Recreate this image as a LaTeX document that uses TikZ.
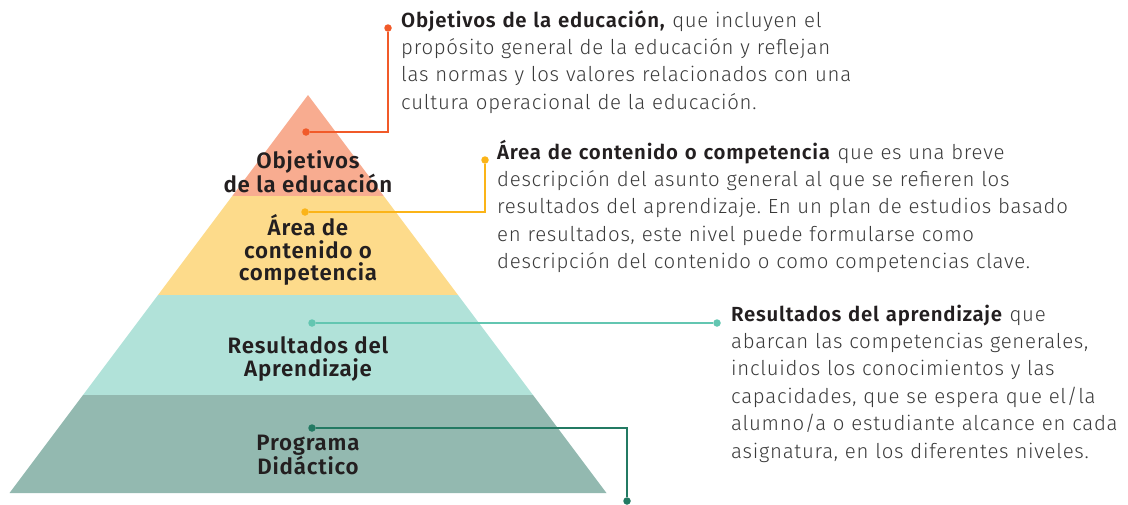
\documentclass[tikz,border=0pt]{standalone}
\usepackage{fontspec}
\setmainfont{Fira Sans}[UprightFont={* Light}, BoldFont={* SemiBold}, LetterSpace=3.6]
\usepackage{tikz}
\frenchspacing

\definecolor{objfill}{HTML}{F8AC90}
\definecolor{areafill}{HTML}{FDDB8B}
\definecolor{resfill}{HTML}{B1E2D9}
\definecolor{progfill}{HTML}{93B9B0}
\definecolor{objline}{HTML}{F15A29}
\definecolor{arealine}{HTML}{FBB418}
\definecolor{resline}{HTML}{63C6B1}
\definecolor{progline}{HTML}{237A63}
\definecolor{labelgray}{HTML}{231F20}
\definecolor{notegray}{HTML}{3A3A3A}

\begin{document}
\begin{tikzpicture}[x=1pt,y=-1pt,
    tier/.style={font=\bfseries\fontsize{22.3}{22.5}\selectfont, text=labelgray, align=center, inner sep=0},
    note/.style={font=\fontsize{20.4}{27.4}\selectfont, text=notegray, text width=700pt, align=left, anchor=base west, inner sep=0},
    link/.style={line width=2pt},
    dot/.style={circle, fill, inner sep=0, minimum size=7.5pt}]

\useasboundingbox (0,0) rectangle (1128,504);

% pyramid
\fill[objfill] (308,95) -- (383.75,196) -- (232.25,196) -- cycle;
\fill[areafill] (232.25,196) -- (383.75,196) -- (458,295) -- (158,295) -- cycle;
\fill[resfill] (158,295) -- (458,295) -- (533,395) -- (83,395) -- cycle;
\fill[progfill] (83,395) -- (533,395) -- (606.5,493) -- (9.5,493) -- cycle;

\node[tier] (obj) at (308,172) {Objetivos\\de la educación};
\node[tier] (area) at (308,250) {Área de\\contenido o\\competencia};
\node[tier] (res) at (308,359) {Resultados del\\Aprendizaje};
\node[tier] (prog) at (308,455) {Programa\\Didáctico};

% dots
\node[dot, objline] (o1) at (306,132) {};
\node[dot, objline] (o2) at (388,28) {};
\node[dot, arealine] (a1) at (305,212) {};
\node[dot, arealine] (a2) at (485,160) {};
\node[dot, resline] (r1) at (312,323) {};
\node[dot, resline] (r2) at (717,323) {};
\node[dot, progline] (p1) at (312,428) {};
\node[dot, progline] (p2) at (627,501) {};

\draw[link, objline] (o1) -- (o1 -| o2) -- (o2);
\draw[link, arealine] (a1) -- (a1 -| a2) -- (a2);
\draw[link, resline] (r1) -- (r2);
\draw[link, progline] (p1) -- (p1 -| p2) -- (p2);

% notes
\node[note] (objtxt) at (401,27) {\textcolor{labelgray}{\textbf{Objetivos de la educación,}} que incluyen el\\
propósito general de la educación y reflejan\\
las normas y los valores relacionados con una\\
cultura operacional de la educación.};
\node[note] (areatxt) at (497,159) {\textcolor{labelgray}{\textbf{Área de contenido o competencia}} que es una breve\\
descripción del asunto general al que se refieren los\\
resultados del aprendizaje. En un plan de estudios basado\\
en resultados, este nivel puede formularse como\\
descripción del contenido o como competencias clave.};
\node[note] (restxt) at (731,321) {\textcolor{labelgray}{\textbf{Resultados del aprendizaje}} que\\
abarcan las competencias generales,\\
incluidos los conocimientos y las\\
capacidades, que se espera que el/la\\
alumno/a o estudiante alcance en cada\\
asignatura, en los diferentes niveles.};
\end{tikzpicture}
\end{document}
